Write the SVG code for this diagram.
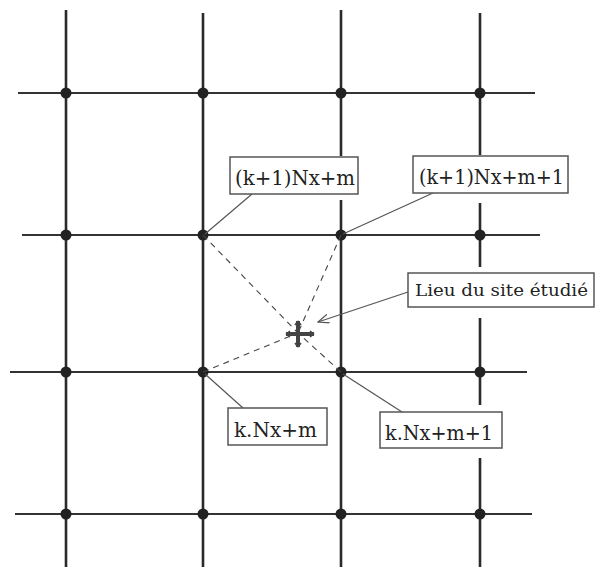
<svg xmlns="http://www.w3.org/2000/svg" width="597" height="567" viewBox="0 0 597 567">
<defs>
<style>
.v{stroke:#2a2a2a;stroke-width:2.6;fill:none}
.h{stroke:#333;stroke-width:2.2;fill:none}
.dot{fill:#222}
.dash{stroke:#444;stroke-width:1.1;stroke-dasharray:6 5;fill:none}
.lead{stroke:#555;stroke-width:1.2;fill:none}
.box{fill:#fff;stroke:#555;stroke-width:1.5}
text{font-family:"DejaVu Serif","Liberation Serif",serif;font-size:21px;fill:#222}
</style>
<marker id="arr" viewBox="0 0 12 10" refX="11" refY="5" markerWidth="12" markerHeight="10" markerUnits="userSpaceOnUse" orient="auto">
<path d="M0,0.5 L11,5 L0,9.5" fill="none" stroke="#555" stroke-width="1.2"/>
</marker>
</defs>
<rect width="597" height="567" fill="#fff"/>
<g id="grid">
<line class="v" x1="66" y1="10" x2="66" y2="567"/>
<line class="v" x1="203" y1="13" x2="203" y2="567"/>
<line class="v" x1="341" y1="10" x2="341" y2="156"/>
<line class="v" x1="341" y1="200" x2="341" y2="567"/>
<line class="v" x1="480" y1="13" x2="480" y2="155"/>
<line class="v" x1="480" y1="203" x2="480" y2="267"/>
<line class="v" x1="480" y1="318" x2="480" y2="405"/>
<line class="v" x1="480" y1="458" x2="480" y2="567"/>
<line class="h" x1="18" y1="93" x2="535" y2="93"/>
<line class="h" x1="22" y1="235" x2="540" y2="235"/>
<line class="h" x1="10" y1="372" x2="527" y2="372"/>
<line class="h" x1="15" y1="514" x2="532" y2="514"/>
</g>
<g id="nodes">
<circle class="dot" cx="66" cy="93" r="5.5"/><circle class="dot" cx="203" cy="93" r="5.5"/><circle class="dot" cx="341" cy="93" r="5.5"/><circle class="dot" cx="480" cy="93" r="5.5"/>
<circle class="dot" cx="66" cy="235" r="5.5"/><circle class="dot" cx="203" cy="235" r="5.5"/><circle class="dot" cx="341" cy="235" r="5.5"/><circle class="dot" cx="480" cy="235" r="5.5"/>
<circle class="dot" cx="66" cy="372" r="5.5"/><circle class="dot" cx="203" cy="372" r="5.5"/><circle class="dot" cx="341" cy="372" r="5.5"/><circle class="dot" cx="480" cy="372" r="5.5"/>
<circle class="dot" cx="66" cy="514" r="5.5"/><circle class="dot" cx="203" cy="514" r="5.5"/><circle class="dot" cx="341" cy="514" r="5.5"/><circle class="dot" cx="480" cy="514" r="5.5"/>
</g>
<g id="connectors">
<line class="dash" x1="203" y1="235" x2="298" y2="333"/>
<line class="dash" x1="341" y1="235" x2="298" y2="333"/>
<line class="dash" x1="203" y1="372" x2="298" y2="333"/>
<line class="dash" x1="341" y1="372" x2="298" y2="333"/>
<line class="lead" x1="252" y1="194" x2="205" y2="234"/>
<line class="lead" x1="433" y1="193" x2="343" y2="234"/>
<line class="lead" x1="243" y1="408" x2="205" y2="374"/>
<line class="lead" x1="402" y1="412" x2="343" y2="374"/>
<line class="lead" x1="408" y1="292" x2="318" y2="322" marker-end="url(#arr)"/>
</g>
<g id="site">
<path d="M286,334 L314,334 M298,321 L298,347" stroke="#444" stroke-width="4" fill="none"/>
<path d="M286,334 L290,331 M286,334 L290,337 M314,334 L310,331 M314,334 L310,337 M298,321 L295,325 M298,321 L301,325 M298,347 L295,343 M298,347 L301,343" stroke="#444" stroke-width="1.5" fill="none"/>
</g>
<g id="label-k1m">
<rect class="box" x="230" y="157" width="128" height="37"/>
<text x="235" y="185" textLength="120" lengthAdjust="spacingAndGlyphs">(k+1)Nx+m</text>
</g>
<g id="label-k1m1">
<rect class="box" x="413" y="156" width="155" height="37"/>
<text x="419" y="184" textLength="145" lengthAdjust="spacingAndGlyphs">(k+1)Nx+m+1</text>
</g>
<g id="label-site">
<rect class="box" x="408" y="273" width="186" height="34"/>
<text x="415" y="296" style="font-size:17.5px" textLength="173" lengthAdjust="spacingAndGlyphs">Lieu du site étudié</text>
</g>
<g id="label-km">
<rect class="box" x="228" y="408" width="99" height="37"/>
<text x="234" y="437" textLength="83" lengthAdjust="spacingAndGlyphs">k.Nx+m</text>
</g>
<g id="label-km1">
<rect class="box" x="380" y="412" width="122" height="36"/>
<text x="385" y="440" textLength="108" lengthAdjust="spacingAndGlyphs">k.Nx+m+1</text>
</g>
</svg>
